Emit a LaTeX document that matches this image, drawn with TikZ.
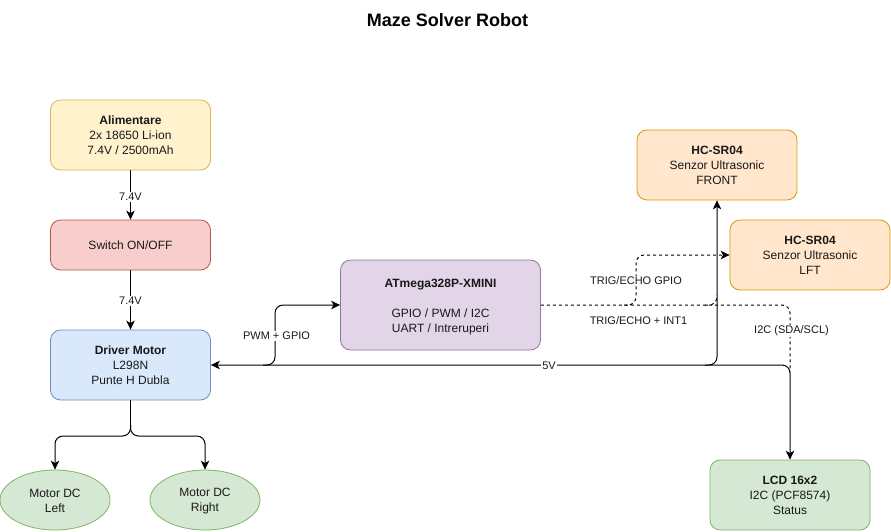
\documentclass[tikz,border=0pt]{standalone}
\usepackage{fontspec}
\setmainfont{Liberation Sans}
\usetikzlibrary{shapes.geometric,arrows.meta}
\definecolor{yellow1}{HTML}{FFF2CC}\definecolor{yellow2}{HTML}{D6B656}
\definecolor{red1}{HTML}{F8CECC}\definecolor{red2}{HTML}{B85450}
\definecolor{blue1}{HTML}{DAE8FC}\definecolor{blue2}{HTML}{6C8EBF}
\definecolor{purple1}{HTML}{E1D5E7}\definecolor{purple2}{HTML}{9673A6}
\definecolor{orange1}{HTML}{FFE6CC}\definecolor{orange2}{HTML}{D79B00}
\definecolor{green1}{HTML}{D5E8D4}\definecolor{green2}{HTML}{82B366}
\tikzset{
  x=1pt,y=-1pt,
  txt/.style={font=\fontsize{12}{15}\selectfont,align=center,text=black!90},
  box/.style={txt,draw,rounded corners=10pt,line width=0.8pt,minimum width=160pt,minimum height=#1,inner sep=0pt},
  box/.default=70pt,
  yellowbox/.style={box=70pt,fill=yellow1,draw=yellow2},
  redbox/.style={box=50pt,fill=red1,draw=red2},
  bluebox/.style={box=70pt,fill=blue1,draw=blue2},
  purplebox/.style={box=90pt,minimum width=200pt,fill=purple1,draw=purple2},
  orangebox/.style={box=70pt,fill=orange1,draw=orange2},
  greenbox/.style={box=70pt,fill=green1,draw=green2},
  motor/.style={txt,ellipse,draw=green2,fill=green1,line width=0.8pt,minimum width=110pt,minimum height=60pt,inner sep=0pt},
  wire/.style={draw=black,line width=1pt,rounded corners=8pt},
  onetip/.style={-{Stealth[length=9pt,width=8.5pt,inset=2.5pt]}},
  twotips/.style={{Stealth[length=9pt,width=8.5pt,inset=2.5pt]}-{Stealth[length=9pt,width=8.5pt,inset=2.5pt]}},
  dashline/.style={dash pattern=on 3pt off 3pt},
  lab/.style={font=\fontsize{11}{13}\selectfont,text=black!90,fill=white,inner sep=1pt},
}
\begin{document}
\begin{tikzpicture}
\useasboundingbox (0,0) rectangle (891,531);
\node[font=\bfseries\fontsize{18}{20}\selectfont] (title) at (447.5,20) {Maze Solver Robot};
\node[yellowbox] (bat) at (130.5,135) {\textbf{Alimentare}\\2x 18650 Li-ion\\7.4V / 2500mAh};
\node[redbox] (sw) at (130.5,245) {Switch ON/OFF};
\node[bluebox] (drv) at (130.5,365) {\textbf{Driver Motor}\\L298N\\Punte H Dubla};
\node[purplebox] (mcu) at (440.5,305) {\rule{0pt}{12pt}\textbf{ATmega328P-XMINI}\\[15pt]GPIO / PWM / I2C\\UART / Intreruperi};
\node[orangebox] (front) at (717,165) {\textbf{HC-SR04}\\Senzor Ultrasonic\\FRONT};
\node[orangebox] (lft) at (810,255) {\textbf{HC-SR04}\\Senzor Ultrasonic\\LFT};
\node[greenbox] (lcd) at (790,495) {\textbf{LCD 16x2}\\I2C (PCF8574)\\Status};
\node[motor] (ml) at (55,500) {\rule{0pt}{10.6pt}Motor DC\\Left};
\node[motor] (mr) at (205,500) {\rule{0pt}{10.6pt}Motor DC\\Right};
\coordinate (busA) at (263,365);
\coordinate (busB) at (705,365);
\coordinate (dashA) at (624,305);
\coordinate (dashB) at (705,305);
\coordinate (dashEnd) at (717,295);
\coordinate (dashJoin) at (790,372);
\coordinate (split) at (130.5,425);
% power
\draw[wire,onetip] (bat) -- node[lab,yshift=-2pt]{7.4V} (sw);
\draw[wire,onetip] (sw) -- node[lab,yshift=-1pt]{7.4V} (drv);
\draw[wire] (drv.south) -- (split);
\draw[wire,onetip] (split) -- (130.5,436) -- (55,436) -- (ml.north);
\draw[wire,onetip] (split) -- (130.5,436) -- (205,436) -- (mr.north);
% signal
\draw[wire,onetip] (busA) -- (275,365) -- (275,305) -- (mcu.west);
\node[lab] (lpwm) at (276.5,336) {PWM + GPIO};
% dashed
\draw[wire,onetip,dashline] (dashA) -- (636,305) -- (636,255) -- (lft.west);
\draw[wire,dashline] (dashB) -- (717,305) -- (dashEnd);
\draw[wire,dashline] (mcu.east) -- (790,305) -- (dashJoin);
% 5V
\draw[wire,onetip] (busB) -- (717,365) -- (front.south);
\draw[wire,twotips] (drv.east) -- (790,365) -- (lcd.north);
\node[lab,inner sep=1.5pt] (l5) at (549,366) {5V};
\node[lab] (lgpio) at (636,281) {TRIG/ECHO GPIO};
\node[lab] (lint) at (638.5,321) {TRIG/ECHO + INT1};
\node[lab] (li2c) at (791.5,331) {I2C (SDA/SCL)};
\end{tikzpicture}
\end{document}
